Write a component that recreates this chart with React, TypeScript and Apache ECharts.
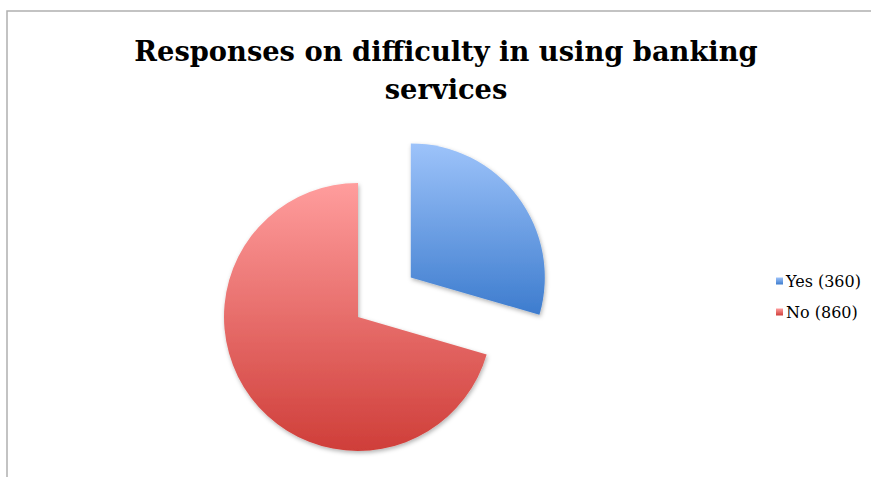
import React, { useEffect, useRef } from "react";
import * as echarts from "echarts";

const titleText = "Responses on difficulty in using banking\nservices";
const categories = ["Yes", "No"];
const values = [360, 860];

const gradients = [
  ["#9DC3FA", "#3D7CCE"],
  ["#FF9D9D", "#CF3E39"],
];

export default function App() {
  const ref = useRef<HTMLDivElement>(null);
  useEffect(() => {
    document.body.style.margin = "0";
    const chart = echarts.init(ref.current!, null, { renderer: "svg" });
    const data = categories.map((name, i) => ({
      name,
      value: values[i],
      selected: i === 0,
      itemStyle: {
        color: new echarts.graphic.LinearGradient(0, 0, 0, 1, [
          { offset: 0, color: gradients[i][0] },
          { offset: 1, color: gradients[i][1] },
        ]),
        shadowBlur: 4,
        shadowColor: "rgba(0,0,0,0.3)",
        shadowOffsetX: 1,
        shadowOffsetY: 2,
      },
    }));
    chart.setOption({
      animation: false,
      backgroundColor: "#ffffff",
      graphic: [
        {
          type: "rect",
          shape: { x: 7, y: 11, width: 900, height: 500 },
          style: { fill: "none", stroke: "#b0b0b0", lineWidth: 1.5 },
          silent: true,
        },
        {
          type: "text",
          x: 446,
          y: 32,
          silent: true,
          style: {
            text: titleText,
            fill: "#000",
            font: 'bold 27.3px "DejaVu Serif"',
            lineHeight: 38,
            textAlign: "center",
            textVerticalAlign: "top",
          },
        },
      ],
      legend: {
        orient: "vertical",
        left: 771,
        top: 268,
        itemWidth: 7,
        itemHeight: 7,
        itemGap: 15,
        icon: "rect",
        formatter: (name: string) => {
          const idx = categories.indexOf(name);
          return `${name} (${values[idx]})`;
        },
        textStyle: {
          fontFamily: "DejaVu Serif",
          fontSize: 16,
          color: "#000",
          padding: [0, 0, 0, -2],
        },
        selectedMode: false,
      },
      series: [
        {
          type: "pie",
          center: [358, 317],
          radius: 134,
          startAngle: 90,
          clockwise: true,
          selectedMode: "single",
          selectedOffset: 66,
          label: { show: false },
          labelLine: { show: false },
          emphasis: { disabled: true },
          data,
        },
      ],
    });
    return () => chart.dispose();
  }, []);
  return (
    <div
      ref={ref}
      style={{ position: "fixed", left: 0, top: 0, width: 871, height: 477 }}
    />
  );
}
